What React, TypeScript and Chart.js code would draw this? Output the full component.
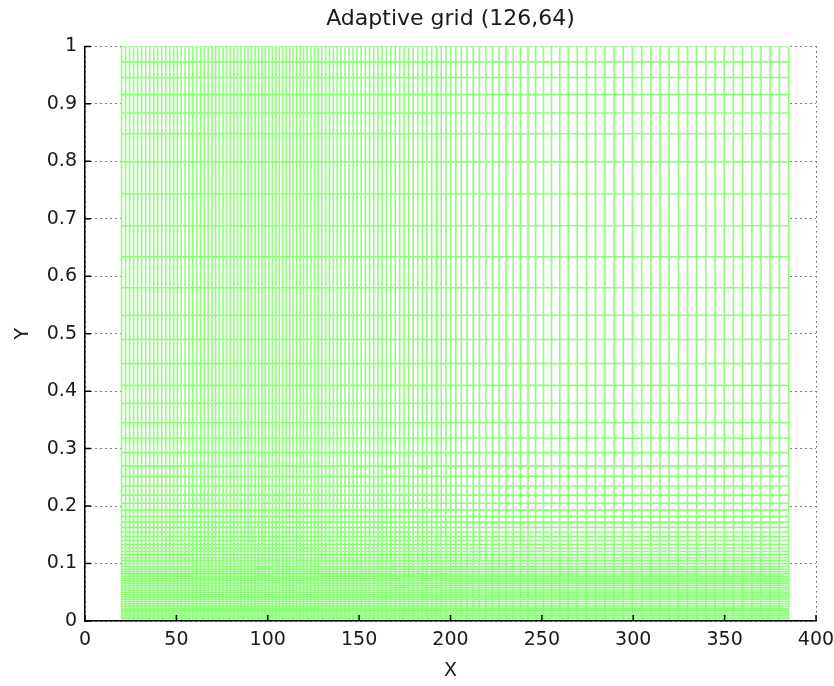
import React, { useEffect, useRef } from "react";
import { Chart, registerables } from "chart.js";

Chart.register(...registerables);

const TITLE = "Adaptive grid (126,64)";
const X_LABEL = "X";
const Y_LABEL = "Y";

const xMin = 0;
const xMax = 400;
const xStep = 50;
const yMin = 0;
const yMax = 1;
const yStep = 0.1;

// Vertical mesh lines (x positions of the 126 grid nodes)
const xLines = [
  20, 22.2, 24.4, 26.6, 28.8, 31.0, 33.2, 35.4, 37.6, 39.8,
  42.0, 44.2, 46.4, 48.5, 50.6, 52.7, 54.8, 56.9, 59.0, 61.1,
  63.2, 65.3, 67.4, 69.5, 71.5, 73.5, 75.5, 77.5, 79.5, 81.5,
  83.5, 85.4, 87.3, 89.2, 91.1, 93.0, 94.9, 96.8, 98.7, 100.6,
  102.5, 104.4, 106.3, 108.2, 110.1,
  112.0, 113.9, 115.8, 117.7, 119.6, 121.6, 123.6, 125.6, 127.6, 129.6,
  131.7, 133.8, 135.9, 138.0, 140.1, 142.3, 144.5, 146.7, 148.9, 151.1,
  153.4, 155.7, 158.0, 160.3, 162.6, 165.0, 167.4, 169.8, 172.2, 174.6,
  177.1, 179.6, 182.1, 184.6, 187.1, 189.7, 192.3, 194.9, 197.5, 200.1,
  202.9, 205.9, 209.1, 212.4, 215.8, 219.3, 222.9, 226.6, 230.4, 234.3,
  238.3, 242.4, 246.6, 250.9, 255.3, 259.8, 264.4,
  269.4, 274.4, 279.4, 284.5, 289.5, 294.5, 299.5, 304.6, 309.6, 314.6,
  319.6, 324.7, 329.7, 334.7, 339.7, 344.8, 349.8, 354.8, 359.8, 364.9,
  369.9, 374.9, 379.9, 385.0,
];

// Horizontal mesh lines (y positions of the 64 grid nodes)
const yLines = [
  1.0, 0.973, 0.946, 0.916, 0.884, 0.848, 0.799, 0.743, 0.688, 0.634,
  0.580, 0.532, 0.490, 0.448, 0.410, 0.379, 0.345, 0.318, 0.293, 0.270,
  0.252, 0.235, 0.219, 0.205, 0.193, 0.182, 0.172, 0.163, 0.155, 0.147,
  0.140, 0.133, 0.127, 0.121, 0.115, 0.110, 0.105, 0.100, 0.095, 0.090,
  0.086, 0.082, 0.078, 0.074, 0.070, 0.066, 0.062, 0.058, 0.054, 0.050,
  0.046, 0.042, 0.038, 0.034, 0.030, 0.026, 0.022, 0.019, 0.016, 0.013,
  0.010, 0.007, 0.004, 0.0,
];

const MESH_COLOR = "rgb(140,255,120)";
const FONT_FAMILY = "'DejaVu Sans', 'Liberation Sans', Arial, sans-serif";
const TEXT_COLOR = "#1a1a1a";

// White mesh faces hide the dotted axis grid beneath the mesh
const meshBackground = {
  id: "meshBackground",
  beforeDatasetsDraw(chart: any) {
    const { ctx, scales } = chart;
    const x0 = scales.x.getPixelForValue(xLines[0]);
    const x1 = scales.x.getPixelForValue(xLines[xLines.length - 1]);
    const y0 = scales.y.getPixelForValue(yLines[0]);
    const y1 = scales.y.getPixelForValue(yLines[yLines.length - 1]);
    ctx.save();
    ctx.fillStyle = "#fff";
    ctx.fillRect(x0, y0, x1 - x0, y1 - y0);
    ctx.restore();
  },
};

const inwardTicks = {
  id: "inwardTicks",
  afterDraw(chart: any) {
    const { ctx, chartArea, scales } = chart;
    const len = 6;
    ctx.save();
    ctx.strokeStyle = "#000";
    ctx.lineWidth = 1.5;
    ctx.beginPath();
    scales.x.ticks.forEach((t: any) => {
      const px = scales.x.getPixelForValue(t.value);
      ctx.moveTo(px, chartArea.bottom);
      ctx.lineTo(px, chartArea.bottom - len);
    });
    scales.y.ticks.forEach((t: any) => {
      const py = scales.y.getPixelForValue(t.value);
      ctx.moveTo(chartArea.left, py);
      ctx.lineTo(chartArea.left + len, py);
    });
    ctx.stroke();
    ctx.restore();
  },
};

export default function App() {
  const canvasRef = useRef<HTMLCanvasElement | null>(null);

  useEffect(() => {
    document.body.style.margin = "0";
    const canvas = canvasRef.current;
    if (!canvas) return;

    const meshLo = { x: xLines[0], y: yLines[yLines.length - 1] };
    const meshHi = { x: xLines[xLines.length - 1], y: yLines[0] };

    const datasets: any[] = [];
    xLines.forEach((xv) => {
      datasets.push({
        data: [
          { x: xv, y: meshLo.y },
          { x: xv, y: meshHi.y },
        ],
        showLine: true,
        borderColor: MESH_COLOR,
        borderWidth: 1.6,
        pointRadius: 0,
      });
    });
    yLines.forEach((yv) => {
      datasets.push({
        data: [
          { x: meshLo.x, y: yv },
          { x: meshHi.x, y: yv },
        ],
        showLine: true,
        borderColor: MESH_COLOR,
        borderWidth: 1.6,
        pointRadius: 0,
      });
    });

    const tickFont = { family: FONT_FAMILY, size: 19, weight: "normal" as const };
    const labelFont = { family: FONT_FAMILY, size: 19, weight: "normal" as const, lineHeight: 1.2 };

    const chart = new Chart(canvas, {
      type: "scatter",
      data: { datasets },
      plugins: [meshBackground, inwardTicks],
      options: {
        animation: false,
        responsive: false,
        devicePixelRatio: 1,
        layout: { padding: { left: 0, right: 18, top: 0, bottom: 0 } },
        plugins: {
          legend: { display: false },
          tooltip: { enabled: false },
          title: {
            display: true,
            text: TITLE,
            color: TEXT_COLOR,
            fullSize: false,
            font: { family: FONT_FAMILY, size: 22, weight: "normal", lineHeight: 1.2 },
            padding: { top: 6, bottom: 14 },
          },
        },
        scales: {
          x: {
            type: "linear",
            min: xMin,
            max: xMax,
            ticks: {
              stepSize: xStep,
              color: TEXT_COLOR,
              font: tickFont,
              padding: 8,
              maxRotation: 0,
              autoSkip: false,
            },
            grid: { color: "#000", lineWidth: 1, drawTicks: false },
            border: { display: true, color: "#000", width: 1.5, dash: [1, 4], z: 1 },
            title: {
              display: true,
              text: X_LABEL,
              color: TEXT_COLOR,
              font: labelFont,
              padding: { top: 0, bottom: 4 },
            },
            afterFit: (s: any) => {
              s.height = 65;
              s.paddingLeft = 0;
              s.paddingRight = 0;
            },
          },
          y: {
            type: "linear",
            min: yMin,
            max: yMax,
            ticks: {
              stepSize: yStep,
              color: TEXT_COLOR,
              font: tickFont,
              padding: 8,
              autoSkip: false,
              callback: (v: any) => String(Number(Number(v).toFixed(1))),
            },
            grid: { color: "#000", lineWidth: 1, drawTicks: false },
            border: { display: true, color: "#000", width: 1.5, dash: [1, 4], z: 1 },
            title: {
              display: true,
              text: Y_LABEL,
              color: TEXT_COLOR,
              font: labelFont,
              padding: { top: 12, bottom: 0 },
            },
            afterFit: (s: any) => {
              s.width = 85;
              s.paddingTop = 0;
              s.paddingBottom = 0;
            },
          },
        },
      },
    });

    return () => {
      chart.destroy();
    };
  }, []);

  return (
    <div style={{ width: 834, height: 686 }}>
      <canvas ref={canvasRef} width={834} height={686} style={{ display: "block" }} />
    </div>
  );
}
